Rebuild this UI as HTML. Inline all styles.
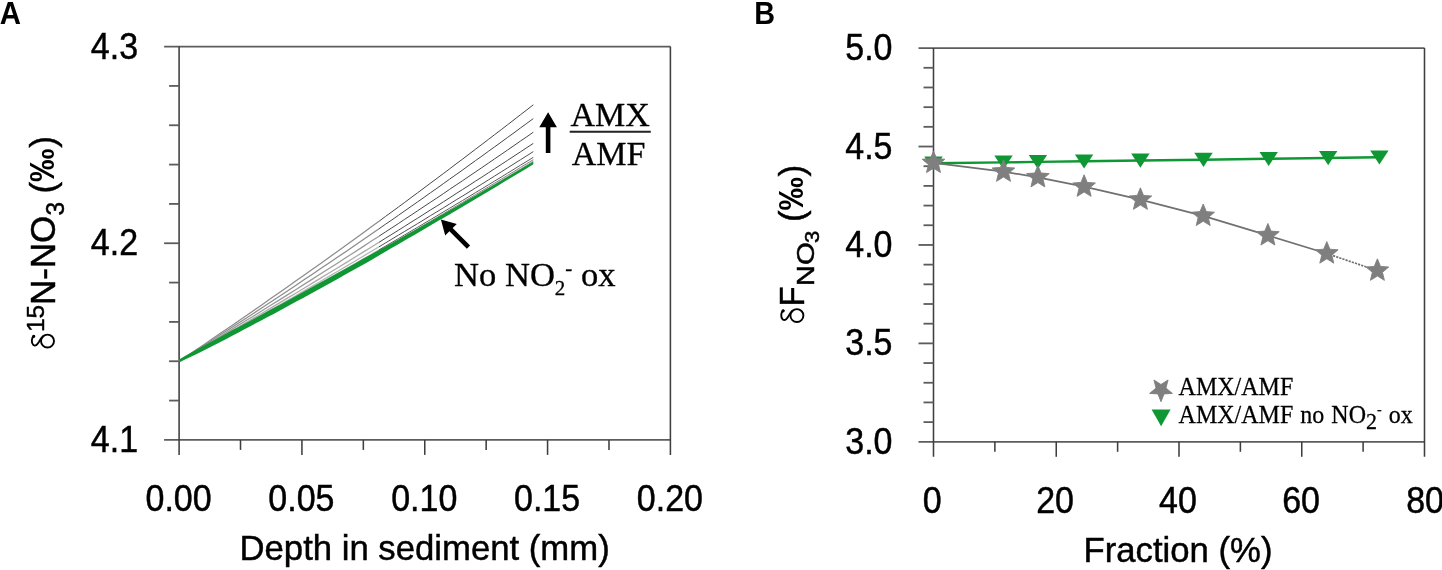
<!DOCTYPE html>
<html><head><meta charset="utf-8"><title>Figure</title>
<style>html,body{margin:0;padding:0;background:#fff;}svg{display:block;will-change:transform;filter:blur(0.5px)}text{fill:#000}</style></head>
<body><svg width="1442" height="570" viewBox="0 0 1442 570">
<rect width="1442" height="570" fill="#fff"/>
<line x1="164.10" y1="46.60" x2="670.40" y2="46.60" stroke="#5c5c5c" stroke-width="1.8" />
<line x1="164.10" y1="439.90" x2="670.40" y2="439.90" stroke="#5c5c5c" stroke-width="1.8" />
<line x1="179.10" y1="46.60" x2="179.10" y2="454.90" stroke="#3e3e3e" stroke-width="1.55" />
<line x1="670.40" y1="46.60" x2="670.40" y2="454.90" stroke="#3e3e3e" stroke-width="1.55" />
<line x1="240.51" y1="439.90" x2="240.51" y2="449.90" stroke="#3e3e3e" stroke-width="1.55" />
<line x1="301.92" y1="439.90" x2="301.92" y2="454.90" stroke="#3e3e3e" stroke-width="1.55" />
<line x1="363.34" y1="439.90" x2="363.34" y2="449.90" stroke="#3e3e3e" stroke-width="1.55" />
<line x1="424.75" y1="439.90" x2="424.75" y2="454.90" stroke="#3e3e3e" stroke-width="1.55" />
<line x1="486.16" y1="439.90" x2="486.16" y2="449.90" stroke="#3e3e3e" stroke-width="1.55" />
<line x1="547.57" y1="439.90" x2="547.57" y2="454.90" stroke="#3e3e3e" stroke-width="1.55" />
<line x1="608.99" y1="439.90" x2="608.99" y2="449.90" stroke="#3e3e3e" stroke-width="1.55" />
<line x1="169.10" y1="85.93" x2="179.10" y2="85.93" stroke="#5c5c5c" stroke-width="1.8" />
<line x1="169.10" y1="125.26" x2="179.10" y2="125.26" stroke="#5c5c5c" stroke-width="1.8" />
<line x1="169.10" y1="164.59" x2="179.10" y2="164.59" stroke="#5c5c5c" stroke-width="1.8" />
<line x1="169.10" y1="203.92" x2="179.10" y2="203.92" stroke="#5c5c5c" stroke-width="1.8" />
<line x1="164.10" y1="243.25" x2="179.10" y2="243.25" stroke="#5c5c5c" stroke-width="1.8" />
<line x1="169.10" y1="282.58" x2="179.10" y2="282.58" stroke="#5c5c5c" stroke-width="1.8" />
<line x1="169.10" y1="321.91" x2="179.10" y2="321.91" stroke="#5c5c5c" stroke-width="1.8" />
<line x1="169.10" y1="361.24" x2="179.10" y2="361.24" stroke="#5c5c5c" stroke-width="1.8" />
<line x1="169.10" y1="400.57" x2="179.10" y2="400.57" stroke="#5c5c5c" stroke-width="1.8" />
<text transform="translate(138.10,58.70) scale(0.972,1.035)" font-size="35" text-anchor="end" font-family="Liberation Sans, sans-serif"  stroke="#000" stroke-width="0.45">4.3</text>
<text transform="translate(138.10,255.35) scale(0.972,1.035)" font-size="35" text-anchor="end" font-family="Liberation Sans, sans-serif"  stroke="#000" stroke-width="0.45">4.2</text>
<text transform="translate(138.10,452.00) scale(0.972,1.035)" font-size="35" text-anchor="end" font-family="Liberation Sans, sans-serif"  stroke="#000" stroke-width="0.45">4.1</text>
<text transform="translate(178.60,511.10) scale(0.972,1.035)" font-size="35" text-anchor="middle" font-family="Liberation Sans, sans-serif"  stroke="#000" stroke-width="0.45">0.00</text>
<text transform="translate(301.42,511.10) scale(0.972,1.035)" font-size="35" text-anchor="middle" font-family="Liberation Sans, sans-serif"  stroke="#000" stroke-width="0.45">0.05</text>
<text transform="translate(424.25,511.10) scale(0.972,1.035)" font-size="35" text-anchor="middle" font-family="Liberation Sans, sans-serif"  stroke="#000" stroke-width="0.45">0.10</text>
<text transform="translate(547.07,511.10) scale(0.972,1.035)" font-size="35" text-anchor="middle" font-family="Liberation Sans, sans-serif"  stroke="#000" stroke-width="0.45">0.15</text>
<text transform="translate(669.90,511.10) scale(0.972,1.035)" font-size="35" text-anchor="middle" font-family="Liberation Sans, sans-serif"  stroke="#000" stroke-width="0.45">0.20</text>
<text transform="translate(424.60,560.30) scale(0.992,1.01)" font-size="35" text-anchor="middle" font-family="Liberation Sans, sans-serif"  stroke="#000" stroke-width="0.45">Depth in sediment (mm)</text>
<text transform="translate(-0.20,24.30) scale(0.97,1.03)" font-size="30.3" text-anchor="start" font-family="Liberation Sans, sans-serif" font-weight="bold" >A</text>
<polyline fill="none" stroke="#8c8c8c" stroke-width="1.25" points="179.1,361.3 187.4,355.7 195.8,350.1 204.1,344.5 212.4,338.8 220.7,333.1 229.1,327.4 237.4,321.7 245.7,316.0 254.1,310.2 262.4,304.4 270.7,298.6 279.1,292.8 287.4,287.0 295.7,281.1 304.0,275.2 312.4,269.3 320.7,263.4 329.0,257.4 337.4,251.4 345.7,245.4 354.0,239.4 362.3,233.4 370.7,227.3 379.0,221.3"/>
<polyline fill="none" stroke="#484848" stroke-width="1.0" points="379.0,221.3 385.4,216.5 391.9,211.8 398.3,207.1 404.7,202.4 411.1,197.6 417.6,192.8 424.0,188.0 430.4,183.2 436.9,178.4 443.3,173.6 449.7,168.8 456.1,163.9 462.6,159.1 469.0,154.2 475.4,149.3 481.9,144.4 488.3,139.5 494.7,134.6 501.2,129.7 507.6,124.7 514.0,119.8 520.4,114.8 526.9,109.8 533.3,104.8"/>
<polyline fill="none" stroke="#8c8c8c" stroke-width="1.25" points="179.1,361.3 187.4,356.0 195.8,350.7 204.1,345.4 212.4,340.0 220.7,334.6 229.1,329.3 237.4,323.8 245.7,318.4 254.1,313.0 262.4,307.5 270.7,302.0 279.1,296.5 287.4,291.0 295.7,285.4 304.0,279.8 312.4,274.2 320.7,268.6 329.0,263.0 337.4,257.3 345.7,251.7 354.0,246.0 362.3,240.3 370.7,234.5 379.0,228.8"/>
<polyline fill="none" stroke="#484848" stroke-width="1.0" points="379.0,228.8 385.4,224.3 391.9,219.9 398.3,215.4 404.7,210.9 411.1,206.4 417.6,201.9 424.0,197.4 430.4,192.8 436.9,188.3 443.3,183.7 449.7,179.1 456.1,174.6 462.6,170.0 469.0,165.3 475.4,160.7 481.9,156.1 488.3,151.4 494.7,146.8 501.2,142.1 507.6,137.4 514.0,132.8 520.4,128.0 526.9,123.3 533.3,118.6"/>
<polyline fill="none" stroke="#999" stroke-width="1.25" points="179.1,361.3 187.4,356.3 195.8,351.3 204.1,346.3 212.4,341.2 220.7,336.1 229.1,331.1 237.4,325.9 245.7,320.8 254.1,315.7 262.4,310.5 270.7,305.3 279.1,300.1 287.4,294.9 295.7,289.7 304.0,284.4 312.4,279.1 320.7,273.8 329.0,268.5 337.4,263.2 345.7,257.8 354.0,252.4 362.3,247.1 370.7,241.6 379.0,236.2"/>
<polyline fill="none" stroke="#484848" stroke-width="1.0" points="379.0,236.2 385.4,232.0 391.9,227.8 398.3,223.6 404.7,219.3 411.1,215.1 417.6,210.8 424.0,206.5 430.4,202.3 436.9,198.0 443.3,193.7 449.7,189.3 456.1,185.0 462.6,180.7 469.0,176.3 475.4,172.0 481.9,167.6 488.3,163.2 494.7,158.8 501.2,154.4 507.6,150.0 514.0,145.6 520.4,141.1 526.9,136.7 533.3,132.2"/>
<polyline fill="none" stroke="#aaa" stroke-width="1.25" points="179.1,361.3 187.4,356.6 195.8,351.8 204.1,347.0 212.4,342.2 220.7,337.4 229.1,332.5 237.4,327.7 245.7,322.8 254.1,317.9 262.4,313.0 270.7,308.1 279.1,303.1 287.4,298.1 295.7,293.2 304.0,288.2 312.4,283.1 320.7,278.1 329.0,273.0 337.4,268.0 345.7,262.9 354.0,257.8 362.3,252.6 370.7,247.5 379.0,242.3"/>
<polyline fill="none" stroke="#484848" stroke-width="1.0" points="379.0,242.3 385.4,238.3 391.9,234.3 398.3,230.3 404.7,226.3 411.1,222.2 417.6,218.2 424.0,214.1 430.4,210.0 436.9,206.0 443.3,201.9 449.7,197.8 456.1,193.6 462.6,189.5 469.0,185.4 475.4,181.2 481.9,177.1 488.3,172.9 494.7,168.7 501.2,164.5 507.6,160.3 514.0,156.1 520.4,151.9 526.9,147.6 533.3,143.4"/>
<polyline fill="none" stroke="#b4b4b4" stroke-width="1.25" points="179.1,361.3 187.4,356.7 195.8,352.1 204.1,347.5 212.4,342.9 220.7,338.3 229.1,333.6 237.4,328.9 245.7,324.2 254.1,319.5 262.4,314.8 270.7,310.1 279.1,305.3 287.4,300.5 295.7,295.7 304.0,290.9 312.4,286.1 320.7,281.2 329.0,276.4 337.4,271.5 345.7,266.6 354.0,261.7 362.3,256.7 370.7,251.8 379.0,246.8"/>
<polyline fill="none" stroke="#505050" stroke-width="1.0" points="379.0,246.8 385.4,243.0 391.9,239.1 398.3,235.2 404.7,231.4 411.1,227.5 417.6,223.6 424.0,219.7 430.4,215.7 436.9,211.8 443.3,207.9 449.7,203.9 456.1,199.9 462.6,196.0 469.0,192.0 475.4,188.0 481.9,184.0 488.3,180.0 494.7,176.0 501.2,171.9 507.6,167.9 514.0,163.8 520.4,159.8 526.9,155.7 533.3,151.6"/>
<polyline fill="none" stroke="#c0c0c0" stroke-width="1.25" points="179.1,361.3 187.4,356.9 195.8,352.4 204.1,347.9 212.4,343.4 220.7,338.9 229.1,334.4 237.4,329.8 245.7,325.3 254.1,320.7 262.4,316.1 270.7,311.5 279.1,306.8 287.4,302.2 295.7,297.5 304.0,292.8 312.4,288.1 320.7,283.4 329.0,278.7 337.4,273.9 345.7,269.2 354.0,264.4 362.3,259.6 370.7,254.8 379.0,249.9"/>
<polyline fill="none" stroke="#5a5a5a" stroke-width="1.0" points="379.0,249.9 385.4,246.2 391.9,242.4 398.3,238.7 404.7,234.9 411.1,231.1 417.6,227.3 424.0,223.5 430.4,219.7 436.9,215.9 443.3,212.0 449.7,208.2 456.1,204.3 462.6,200.5 469.0,196.6 475.4,192.7 481.9,188.8 488.3,184.9 494.7,181.0 501.2,177.1 507.6,173.1 514.0,169.2 520.4,165.2 526.9,161.3 533.3,157.3"/>
<polyline fill="none" stroke="#ccc" stroke-width="1.25" points="179.1,361.3 187.4,356.9 195.8,352.5 204.1,348.1 212.4,343.6 220.7,339.2 229.1,334.7 237.4,330.2 245.7,325.7 254.1,321.1 262.4,316.6 270.7,312.0 279.1,307.5 287.4,302.9 295.7,298.3 304.0,293.6 312.4,289.0 320.7,284.3 329.0,279.6 337.4,275.0 345.7,270.2 354.0,265.5 362.3,260.8 370.7,256.0 379.0,251.2"/>
<polyline fill="none" stroke="#808080" stroke-width="1.0" points="379.0,251.2 385.4,247.5 391.9,243.8 398.3,240.1 404.7,236.4 411.1,232.6 417.6,228.9 424.0,225.1 430.4,221.4 436.9,217.6 443.3,213.8 449.7,210.0 456.1,206.2 462.6,202.4 469.0,198.5 475.4,194.7 481.9,190.8 488.3,187.0 494.7,183.1 501.2,179.2 507.6,175.4 514.0,171.5 520.4,167.5 526.9,163.6 533.3,159.7"/>
<polyline fill="none" stroke="#d4d4d4" stroke-width="1.25" points="179.1,361.3 187.4,356.9 195.8,352.6 204.1,348.2 212.4,343.8 220.7,339.3 229.1,334.9 237.4,330.4 245.7,325.9 254.1,321.4 262.4,316.9 270.7,312.4 279.1,307.9 287.4,303.3 295.7,298.7 304.0,294.1 312.4,289.5 320.7,284.9 329.0,280.3 337.4,275.6 345.7,270.9 354.0,266.2 362.3,261.5 370.7,256.8 379.0,252.0"/>
<polyline fill="none" stroke="#aaa" stroke-width="1.0" points="379.0,252.0 385.4,248.4 391.9,244.7 398.3,241.0 404.7,237.3 411.1,233.6 417.6,229.9 424.0,226.1 430.4,222.4 436.9,218.6 443.3,214.9 449.7,211.1 456.1,207.3 462.6,203.5 469.0,199.7 475.4,195.9 481.9,192.1 488.3,188.3 494.7,184.4 501.2,180.6 507.6,176.7 514.0,172.9 520.4,169.0 526.9,165.1 533.3,161.2"/>
<path d="M179.1 359.4 L185.0 356.1 L190.9 352.8 L196.8 349.5 L202.7 346.3 L208.6 343.1 L214.5 339.9 L220.4 336.7 L226.3 333.5 L232.2 330.3 L238.1 327.2 L244.0 324.0 L249.9 320.9 L255.8 317.7 L261.7 314.5 L267.6 311.3 L273.6 308.1 L279.5 304.9 L285.4 301.7 L291.3 298.5 L297.2 295.2 L303.1 292.0 L309.0 288.8 L314.9 285.5 L320.8 282.3 L326.7 279.0 L332.6 275.8 L338.5 272.5 L344.4 269.2 L350.3 265.9 L356.2 262.7 L362.1 259.3 L368.0 256.0 L373.9 252.7 L379.8 249.6 L385.7 246.5 L391.6 243.2 L397.5 239.9 L403.4 236.6 L409.3 233.3 L415.2 230.0 L421.1 226.6 L427.0 223.3 L432.9 219.9 L438.8 216.6 L444.7 213.2 L450.7 209.8 L456.6 206.4 L462.5 203.0 L468.4 199.6 L474.3 196.2 L480.2 192.7 L486.1 189.3 L492.0 185.9 L497.9 182.4 L503.8 178.9 L509.7 175.5 L515.6 172.0 L521.5 168.5 L527.4 165.0 L533.3 161.5 L533.3 164.3 L527.4 167.9 L521.5 171.5 L515.6 175.0 L509.7 178.6 L503.8 182.1 L497.9 185.7 L492.0 189.2 L486.1 192.7 L480.2 196.2 L474.3 199.7 L468.4 203.2 L462.5 206.7 L456.6 210.2 L450.7 213.7 L444.7 217.2 L438.8 220.6 L432.9 224.1 L427.0 227.5 L421.1 231.0 L415.2 234.4 L409.3 237.8 L403.4 241.3 L397.5 244.7 L391.6 248.1 L385.7 251.5 L379.8 255.0 L373.9 258.6 L368.0 261.9 L362.1 265.2 L356.2 268.6 L350.3 271.8 L344.4 275.1 L338.5 278.4 L332.6 281.7 L326.7 284.9 L320.8 288.2 L314.9 291.4 L309.0 294.7 L303.1 297.9 L297.2 301.1 L291.3 304.3 L285.4 307.5 L279.5 310.7 L273.6 313.9 L267.6 317.0 L261.7 320.2 L255.8 323.3 L249.9 326.5 L244.0 329.6 L238.1 332.7 L232.2 335.8 L226.3 338.9 L220.4 341.9 L214.5 345.0 L208.6 348.0 L202.7 351.0 L196.8 353.9 L190.9 356.8 L185.0 359.6 L179.1 362.4 Z" fill="#0e9733"/>
<path d="M548.1 112.3 L556.9 127.3 L550.4 127.3 L550.4 153 L545.8 153 L545.8 127.3 L539.3 127.3 Z" fill="#000"/>
<path d="M440.90 219.60 L445.21 235.51 L449.39 231.34 L466.85 248.80 L470.10 245.55 L452.64 228.09 L456.81 223.91 Z" fill="#000"/>
<text transform="translate(610.20,126.40) scale(1,1)" font-size="34" text-anchor="middle" font-family="Liberation Serif, serif"  stroke="#000" stroke-width="0.3">AMX</text>
<line x1="569.70" y1="131.80" x2="650.80" y2="131.80" stroke="#222" stroke-width="2" />
<text transform="translate(608.50,165.10) scale(1,1)" font-size="34" text-anchor="middle" font-family="Liberation Serif, serif"  stroke="#000" stroke-width="0.3">AMF</text>
<text x="454.0" y="285.6" font-size="34.6" font-family="Liberation Serif, serif" stroke="#000" stroke-width="0.3">No NO<tspan font-size="21" dy="9.6">2</tspan><tspan font-size="21" dy="-20.6">-</tspan><tspan dy="11"> ox</tspan></text>
<g transform="translate(54.6,243) rotate(-90)" font-family="Liberation Sans, sans-serif">
<g transform="translate(-106.00,0)" fill="none" stroke="#000" stroke-width="1.9" stroke-linecap="round"><ellipse cx="7.9" cy="-7.1" rx="6.45" ry="6.5"/><path d="M12.9 -20.6 C11.6 -23.2 6.2 -23.6 4.0 -21.2 C2.3 -19 4.6 -17.2 7.5 -15.4 C9.6 -14.2 11.6 -12.9 12.7 -11.5"/><circle cx="12.7" cy="-20.9" r="0.7" fill="#000"/></g>
<text transform="translate(-89.00,-10.40) scale(1,0.98)" font-size="24.5"  stroke="#000" stroke-width="0.45">15</text>
<text transform="translate(-62.10,0.00) scale(1,1.02)" font-size="35"  stroke="#000" stroke-width="0.45">N-NO</text>
<text transform="translate(27.40,9.30) scale(1,1.02)" font-size="24.5"  stroke="#000" stroke-width="0.45">3</text>
<text transform="translate(49.60,0.00) scale(1,1)" font-size="35"  stroke="#000" stroke-width="0.45">(</text>
<text transform="translate(61.00,-0.60) scale(0.955,1)" font-size="35" font-weight="bold" >‰</text>
<text transform="translate(95.20,0.00) scale(1,1)" font-size="35"  stroke="#000" stroke-width="0.45">)</text>
</g>
<line x1="918.50" y1="48.10" x2="1424.50" y2="48.10" stroke="#5c5c5c" stroke-width="1.8" />
<line x1="918.50" y1="441.80" x2="1424.50" y2="441.80" stroke="#5c5c5c" stroke-width="1.8" />
<line x1="933.50" y1="48.10" x2="933.50" y2="456.80" stroke="#3e3e3e" stroke-width="1.55" />
<line x1="1424.50" y1="48.10" x2="1424.50" y2="456.80" stroke="#3e3e3e" stroke-width="1.55" />
<line x1="994.88" y1="441.80" x2="994.88" y2="451.80" stroke="#3e3e3e" stroke-width="1.55" />
<line x1="1056.25" y1="441.80" x2="1056.25" y2="456.80" stroke="#3e3e3e" stroke-width="1.55" />
<line x1="1117.62" y1="441.80" x2="1117.62" y2="451.80" stroke="#3e3e3e" stroke-width="1.55" />
<line x1="1179.00" y1="441.80" x2="1179.00" y2="456.80" stroke="#3e3e3e" stroke-width="1.55" />
<line x1="1240.38" y1="441.80" x2="1240.38" y2="451.80" stroke="#3e3e3e" stroke-width="1.55" />
<line x1="1301.75" y1="441.80" x2="1301.75" y2="456.80" stroke="#3e3e3e" stroke-width="1.55" />
<line x1="1363.12" y1="441.80" x2="1363.12" y2="451.80" stroke="#3e3e3e" stroke-width="1.55" />
<line x1="923.50" y1="67.78" x2="933.50" y2="67.78" stroke="#5c5c5c" stroke-width="1.8" />
<line x1="923.50" y1="87.47" x2="933.50" y2="87.47" stroke="#5c5c5c" stroke-width="1.8" />
<line x1="923.50" y1="107.16" x2="933.50" y2="107.16" stroke="#5c5c5c" stroke-width="1.8" />
<line x1="923.50" y1="126.84" x2="933.50" y2="126.84" stroke="#5c5c5c" stroke-width="1.8" />
<line x1="918.50" y1="146.53" x2="933.50" y2="146.53" stroke="#5c5c5c" stroke-width="1.8" />
<line x1="923.50" y1="166.21" x2="933.50" y2="166.21" stroke="#5c5c5c" stroke-width="1.8" />
<line x1="923.50" y1="185.90" x2="933.50" y2="185.90" stroke="#5c5c5c" stroke-width="1.8" />
<line x1="923.50" y1="205.58" x2="933.50" y2="205.58" stroke="#5c5c5c" stroke-width="1.8" />
<line x1="923.50" y1="225.26" x2="933.50" y2="225.26" stroke="#5c5c5c" stroke-width="1.8" />
<line x1="918.50" y1="244.95" x2="933.50" y2="244.95" stroke="#5c5c5c" stroke-width="1.8" />
<line x1="923.50" y1="264.63" x2="933.50" y2="264.63" stroke="#5c5c5c" stroke-width="1.8" />
<line x1="923.50" y1="284.32" x2="933.50" y2="284.32" stroke="#5c5c5c" stroke-width="1.8" />
<line x1="923.50" y1="304.00" x2="933.50" y2="304.00" stroke="#5c5c5c" stroke-width="1.8" />
<line x1="923.50" y1="323.69" x2="933.50" y2="323.69" stroke="#5c5c5c" stroke-width="1.8" />
<line x1="918.50" y1="343.38" x2="933.50" y2="343.38" stroke="#5c5c5c" stroke-width="1.8" />
<line x1="923.50" y1="363.06" x2="933.50" y2="363.06" stroke="#5c5c5c" stroke-width="1.8" />
<line x1="923.50" y1="382.75" x2="933.50" y2="382.75" stroke="#5c5c5c" stroke-width="1.8" />
<line x1="923.50" y1="402.43" x2="933.50" y2="402.43" stroke="#5c5c5c" stroke-width="1.8" />
<line x1="923.50" y1="422.12" x2="933.50" y2="422.12" stroke="#5c5c5c" stroke-width="1.8" />
<text transform="translate(892.50,60.20) scale(0.972,1.035)" font-size="35" text-anchor="end" font-family="Liberation Sans, sans-serif"  stroke="#000" stroke-width="0.45">5.0</text>
<text transform="translate(892.50,158.62) scale(0.972,1.035)" font-size="35" text-anchor="end" font-family="Liberation Sans, sans-serif"  stroke="#000" stroke-width="0.45">4.5</text>
<text transform="translate(892.50,257.05) scale(0.972,1.035)" font-size="35" text-anchor="end" font-family="Liberation Sans, sans-serif"  stroke="#000" stroke-width="0.45">4.0</text>
<text transform="translate(892.50,355.48) scale(0.972,1.035)" font-size="35" text-anchor="end" font-family="Liberation Sans, sans-serif"  stroke="#000" stroke-width="0.45">3.5</text>
<text transform="translate(892.50,453.90) scale(0.972,1.035)" font-size="35" text-anchor="end" font-family="Liberation Sans, sans-serif"  stroke="#000" stroke-width="0.45">3.0</text>
<text transform="translate(932.30,512.90) scale(0.972,1.035)" font-size="35" text-anchor="middle" font-family="Liberation Sans, sans-serif"  stroke="#000" stroke-width="0.45">0</text>
<text transform="translate(1055.05,512.90) scale(0.972,1.035)" font-size="35" text-anchor="middle" font-family="Liberation Sans, sans-serif"  stroke="#000" stroke-width="0.45">20</text>
<text transform="translate(1178.00,512.90) scale(0.972,1.035)" font-size="35" text-anchor="middle" font-family="Liberation Sans, sans-serif"  stroke="#000" stroke-width="0.45">40</text>
<text transform="translate(1301.05,512.90) scale(0.972,1.035)" font-size="35" text-anchor="middle" font-family="Liberation Sans, sans-serif"  stroke="#000" stroke-width="0.45">60</text>
<text transform="translate(1425.10,512.90) scale(0.972,1.035)" font-size="35" text-anchor="middle" font-family="Liberation Sans, sans-serif"  stroke="#000" stroke-width="0.45">80</text>
<text transform="translate(1178.00,562.20) scale(0.992,1.01)" font-size="35" text-anchor="middle" font-family="Liberation Sans, sans-serif"  stroke="#000" stroke-width="0.45">Fraction (%)</text>
<text transform="translate(754.30,24.30) scale(0.95,1.03)" font-size="30.3" text-anchor="start" font-family="Liberation Sans, sans-serif" font-weight="bold" >B</text>
<polyline fill="none" stroke="#0e9733" stroke-width="2.4" points="933.5,163.3 1003.5,162.4 1037.9,161.9 1084.1,161.3 1140.4,160.5 1203.2,159.7 1267.9,158.8 1326.8,158.0 1377.4,157.3"/>
<path d="M924.3 156.4 L942.7 156.4 L933.5 170.5 Z" fill="#0e9733"/>
<path d="M994.3 155.5 L1012.7 155.5 L1003.5 169.6 Z" fill="#0e9733"/>
<path d="M1028.7 155.0 L1047.1 155.0 L1037.9 169.1 Z" fill="#0e9733"/>
<path d="M1074.9 154.4 L1093.3 154.4 L1084.1 168.5 Z" fill="#0e9733"/>
<path d="M1131.2 153.6 L1149.6 153.6 L1140.4 167.7 Z" fill="#0e9733"/>
<path d="M1194.3 152.8 L1212.7 152.8 L1203.5 166.9 Z" fill="#0e9733"/>
<path d="M1259.5 151.9 L1277.9 151.9 L1268.7 166.0 Z" fill="#0e9733"/>
<path d="M1319.0 151.1 L1337.4 151.1 L1328.2 165.2 Z" fill="#0e9733"/>
<path d="M1370.2 150.4 L1388.6 150.4 L1379.4 164.5 Z" fill="#0e9733"/>
<polyline fill="none" stroke="#707070" stroke-width="1.7" points="933.5,162.9 1003.5,171.7 1037.9,177.3 1084.1,186.7 1140.4,199.7 1203.2,215.9 1267.9,235.4 1326.8,253.5"/>
<line x1="1326.8" y1="253.5" x2="1377.4" y2="270.7" stroke="#707070" stroke-width="1.7" stroke-dasharray="2.2 1.1"/>
<path d="M933.50 151.00 L936.62 158.61 L944.82 159.22 L938.54 164.54 L940.49 172.53 L933.50 168.20 L926.51 172.53 L928.46 164.54 L922.18 159.22 L930.38 158.61 Z" fill="#7f7f7f" stroke="#7f7f7f" stroke-width="0.9" stroke-linejoin="round"/>
<path d="M1003.50 159.80 L1006.62 167.41 L1014.82 168.02 L1008.54 173.34 L1010.49 181.33 L1003.50 177.00 L996.51 181.33 L998.46 173.34 L992.18 168.02 L1000.38 167.41 Z" fill="#7f7f7f" stroke="#7f7f7f" stroke-width="0.9" stroke-linejoin="round"/>
<path d="M1037.90 165.40 L1041.02 173.01 L1049.22 173.62 L1042.94 178.94 L1044.89 186.93 L1037.90 182.60 L1030.91 186.93 L1032.86 178.94 L1026.58 173.62 L1034.78 173.01 Z" fill="#7f7f7f" stroke="#7f7f7f" stroke-width="0.9" stroke-linejoin="round"/>
<path d="M1084.10 174.80 L1087.22 182.41 L1095.42 183.02 L1089.14 188.34 L1091.09 196.33 L1084.10 192.00 L1077.11 196.33 L1079.06 188.34 L1072.78 183.02 L1080.98 182.41 Z" fill="#7f7f7f" stroke="#7f7f7f" stroke-width="0.9" stroke-linejoin="round"/>
<path d="M1140.40 187.80 L1143.52 195.41 L1151.72 196.02 L1145.44 201.34 L1147.39 209.33 L1140.40 205.00 L1133.41 209.33 L1135.36 201.34 L1129.08 196.02 L1137.28 195.41 Z" fill="#7f7f7f" stroke="#7f7f7f" stroke-width="0.9" stroke-linejoin="round"/>
<path d="M1203.20 204.00 L1206.32 211.61 L1214.52 212.22 L1208.24 217.54 L1210.19 225.53 L1203.20 221.20 L1196.21 225.53 L1198.16 217.54 L1191.88 212.22 L1200.08 211.61 Z" fill="#7f7f7f" stroke="#7f7f7f" stroke-width="0.9" stroke-linejoin="round"/>
<path d="M1267.90 223.50 L1271.02 231.11 L1279.22 231.72 L1272.94 237.04 L1274.89 245.03 L1267.90 240.70 L1260.91 245.03 L1262.86 237.04 L1256.58 231.72 L1264.78 231.11 Z" fill="#7f7f7f" stroke="#7f7f7f" stroke-width="0.9" stroke-linejoin="round"/>
<path d="M1326.80 241.60 L1329.92 249.21 L1338.12 249.82 L1331.84 255.14 L1333.79 263.13 L1326.80 258.80 L1319.81 263.13 L1321.76 255.14 L1315.48 249.82 L1323.68 249.21 Z" fill="#7f7f7f" stroke="#7f7f7f" stroke-width="0.9" stroke-linejoin="round"/>
<path d="M1377.40 258.80 L1380.52 266.41 L1388.72 267.02 L1382.44 272.34 L1384.39 280.33 L1377.40 276.00 L1370.41 280.33 L1372.36 272.34 L1366.08 267.02 L1374.28 266.41 Z" fill="#7f7f7f" stroke="#7f7f7f" stroke-width="0.9" stroke-linejoin="round"/>
<path d="M1161.00 401.70 L1164.06 393.91 L1172.41 393.41 L1165.95 388.09 L1168.05 379.99 L1161.00 384.50 L1153.95 379.99 L1156.05 388.09 L1149.59 393.41 L1157.94 393.91 Z" fill="#7f7f7f" stroke="#7f7f7f" stroke-width="0.9" stroke-linejoin="round"/>
<path d="M1151.6 409.4 L1170.6 409.4 L1161.1 426.3 Z" fill="#0e9733"/>
<text transform="translate(1178.60,395.30) scale(1,1.02)" font-size="24" text-anchor="start" font-family="Liberation Serif, serif"  stroke="#000" stroke-width="0.25">AMX/AMF</text>
<text transform="translate(1178.6,422.5) scale(1,1.02)" font-size="24" word-spacing="1.05" font-family="Liberation Serif, serif" stroke="#000" stroke-width="0.25">AMX/AMF no NO<tspan font-size="22" dy="6.3">2</tspan><tspan font-size="14" dy="-14.7">-</tspan><tspan dy="8.4"> ox</tspan></text>
<g transform="translate(804,245) rotate(-90)" font-family="Liberation Sans, sans-serif">
<g transform="translate(-78.50,0)" fill="none" stroke="#000" stroke-width="1.9" stroke-linecap="round"><ellipse cx="7.9" cy="-7.1" rx="6.45" ry="6.5"/><path d="M12.9 -20.6 C11.6 -23.2 6.2 -23.6 4.0 -21.2 C2.3 -19 4.6 -17.2 7.5 -15.4 C9.6 -14.2 11.6 -12.9 12.7 -11.5"/><circle cx="12.7" cy="-20.9" r="0.7" fill="#000"/></g>
<text transform="translate(-61.60,0.00) scale(0.94,1.02)" font-size="35"  stroke="#000" stroke-width="0.45">F</text>
<text transform="translate(-41.30,10.20) scale(1.2,1.0)" font-size="24.5"  stroke="#000" stroke-width="0.45">NO</text>
<text transform="translate(2.00,14.60) scale(1.16,1.08)" font-size="19"  stroke="#000" stroke-width="0.45">3</text>
<text transform="translate(23.00,0.00) scale(1,1)" font-size="35"  stroke="#000" stroke-width="0.45">(</text>
<text transform="translate(34.40,-0.60) scale(0.955,1)" font-size="35" font-weight="bold" >‰</text>
<text transform="translate(68.60,0.00) scale(1,1)" font-size="35"  stroke="#000" stroke-width="0.45">)</text>
</g>
</svg></body></html>
